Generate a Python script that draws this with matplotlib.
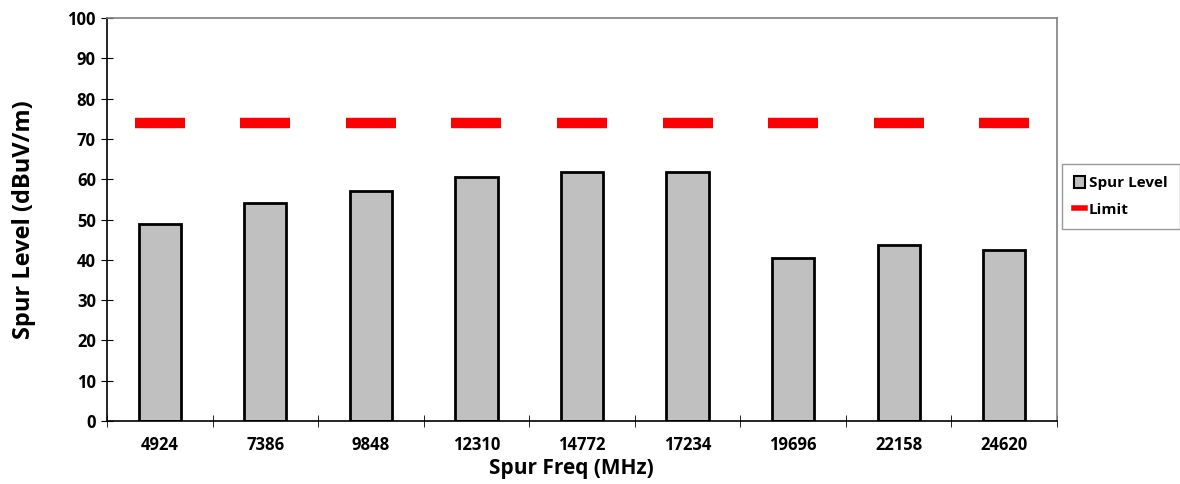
import numpy as np
import matplotlib.pyplot as plt
from matplotlib.patches import Patch
from matplotlib.lines import Line2D

plt.rcParams['font.family'] = ['Open Sans', 'DejaVu Sans']

freqs = ['4924', '7386', '9848', '12310', '14772', '17234', '19696', '22158', '24620']
spur_level = [48.9, 54.2, 57.1, 60.5, 61.7, 61.8, 40.4, 43.7, 42.4]
limit = [74, 74, 74, 74, 74, 74, 74, 74, 74]

fig = plt.figure(figsize=(11.8, 4.84), dpi=100)
ax = fig.add_axes([107 / 1180, 1 - 421 / 484, 950 / 1180, 403 / 484])

x = np.arange(len(freqs))
ax.bar(x, spur_level, width=0.4, color='#c0c0c0', edgecolor='black',
       linewidth=2, zorder=2)
ax.plot(x, limit, linestyle='none', marker='_', markersize=36,
        markeredgewidth=7.5, color='#ff0000', zorder=3)

ax.set_xlim(-0.5, len(freqs) - 0.5)
ax.set_ylim(0, 100)
ax.set_yticks(np.arange(0, 101, 10))
ax.set_xticks(x)
ax.set_xticklabels(freqs)
ax.set_xticks(np.arange(-0.5, len(freqs), 1), minor=True)

for lbl in ax.get_xticklabels() + ax.get_yticklabels():
    lbl.set_fontweight('bold')
    lbl.set_fontsize(12)

ax.tick_params(axis='x', which='major', length=0, pad=11)
ax.tick_params(axis='x', which='minor', direction='inout', length=8, color='black')
ax.tick_params(axis='y', direction='inout', length=8, color='black', pad=4)

ax.spines['left'].set_color('black')
ax.spines['bottom'].set_color('black')
ax.spines['top'].set_color('#808080')
ax.spines['right'].set_color('#808080')
for s in ax.spines.values():
    s.set_linewidth(1.2)

ax.set_xlabel('Spur Freq (MHz)', fontsize=15, fontweight='bold', va='center')
ax.xaxis.set_label_coords(0.489, -0.118)
ax.set_ylabel('Spur Level (dBuV/m)', fontsize=17, fontweight='bold', va='center')
ax.yaxis.set_label_coords(-0.087, 0.5)

handles = [
    Patch(facecolor='#c0c0c0', edgecolor='black', linewidth=1.5),
    Line2D([0], [0], color='#ff0000', linewidth=4),
]
leg = fig.legend(handles, ['Spur Level', 'Limit'], loc='upper left',
                 bbox_to_anchor=(1062 / 1180, 1 - 164 / 484),
                 frameon=True, fancybox=False, edgecolor='#808080',
                 prop={'weight': 'bold', 'size': 11}, handlelength=0.7,
                 handleheight=0.8, handletextpad=0.25, labelspacing=0.8,
                 borderpad=0.8, borderaxespad=0)
leg.get_frame().set_linewidth(1.0)

fig.savefig('out.png', dpi=100)
